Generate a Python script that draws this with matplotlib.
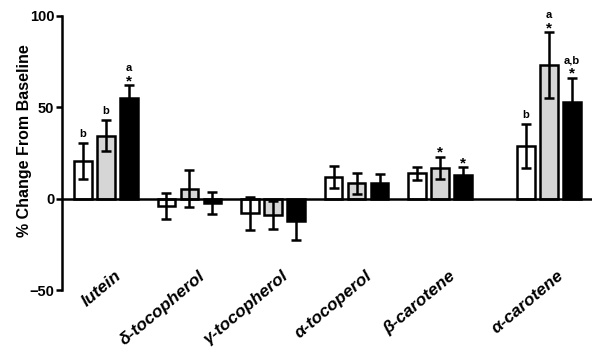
import numpy as np
import matplotlib
matplotlib.use('Agg')
import matplotlib.pyplot as plt

plt.rcParams['font.family'] = ['Liberation Sans', 'DejaVu Sans']

# Data
labels = ['lutein', 'δ-tocopherol', 'γ-tocopherol', 'α-tocoperol', 'β-carotene', 'α-carotene']
group1 = [20.5, -4, -8, 12, 13.8, 29]
group1_err = [10, 7, 9, 6, 3.7, 12]
group2 = [34.5, 5.5, -9, 8.3, 17, 73]
group2_err = [8.5, 10, 7.5, 6, 6, 18]
group3 = [55, -2.5, -12.5, 8.3, 12.8, 53]
group3_err = [7, 6, 10, 5, 4.3, 13]
# significance marks: (group index, bar index, letter, star)
marks = [(0, 0, 'b', False), (0, 1, 'b', False), (0, 2, 'a', True),
         (4, 1, '', True), (4, 2, '', True),
         (5, 0, 'b', False), (5, 1, 'a', True), (5, 2, 'a,b', True)]

centers = np.array([0, 1, 2, 3, 4, 5.3])
step = 0.275
width = 0.21

fig = plt.figure(figsize=(6, 3.52), dpi=100)
ax = fig.add_axes([0.103, 0.176, 0.884, 0.779])

series = [(group1, group1_err, 'white'), (group2, group2_err, '#d6d6d6'), (group3, group3_err, 'black')]
for i, (vals, errs, col) in enumerate(series):
    xs = centers + (i - 1) * step
    ax.bar(xs, vals, width, color=col, edgecolor='black', linewidth=1.8, zorder=2)
    ax.errorbar(xs, vals, yerr=errs, fmt='none', ecolor='black', elinewidth=1.8,
                capsize=3.8, capthick=1.8, zorder=3)

for g, b, letter, star in marks:
    vals, errs, _ = series[b]
    x = centers[g] + (b - 1) * step
    top = vals[g] + errs[g]
    if star:
        ax.annotate('*', (x, top), xytext=(0, -2), textcoords='offset points',
                    ha='center', va='bottom', fontsize=11, fontweight='bold')
        if letter:
            ax.annotate(letter, (x, top), xytext=(0, 9), textcoords='offset points',
                        ha='center', va='bottom', fontsize=8, fontweight='bold')
    else:
        ax.annotate(letter, (x, top), xytext=(0, 3), textcoords='offset points',
                    ha='center', va='bottom', fontsize=8, fontweight='bold')

ax.set_xlim(-0.527, 5.82)
ax.set_ylim(-50, 100)
ax.set_yticks([-50, 0, 50, 100])
ax.axhline(0, color='black', linewidth=1.8, zorder=4)
for s in ['top', 'right', 'bottom']:
    ax.spines[s].set_visible(False)
ax.spines['left'].set_linewidth(1.8)
ax.tick_params(axis='y', width=1.8, length=4, pad=1.5, labelsize=10.5)
for t in ax.get_yticklabels():
    t.set_fontweight('bold')
ax.set_xticks([])

for c, lab in zip(centers, labels):
    ax.text(c + 0.1, -38, lab, rotation=40, rotation_mode='anchor', ha='right', va='top',
            fontsize=12.5, fontweight='bold', fontstyle='italic', clip_on=False)

ax.set_ylabel('% Change From Baseline', fontsize=11.5, fontweight='bold')
ax.yaxis.set_label_coords(-0.057, 0.545)

fig.savefig('out.png', dpi=100)
